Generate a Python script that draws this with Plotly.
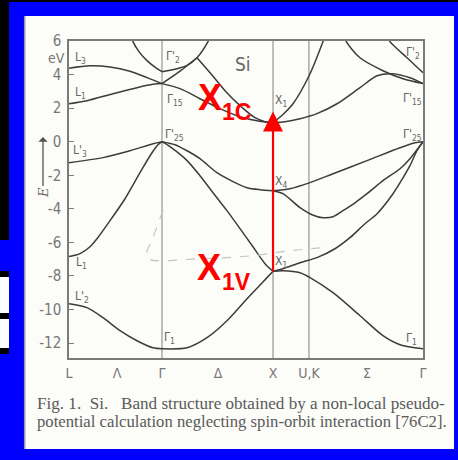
import plotly.graph_objects as go

# ---------------- data ----------------
# high-symmetry points along the k-path (units of 2*pi/a)
K_L, K_G, K_X, K_UK, K_G2 = 0.0, 0.862, 1.891, 2.224, 3.281
XTICK_VALS = [0.0, 0.445, 0.862, 1.381, 1.891, 2.224, 2.762, 3.281]
XTICK_TEXT = ["L", "Λ", "Γ", "Δ", "X", "U,K", "Σ", "Γ"]
YTICK_VALS = [6, 4, 2, 0, -2, -4, -6, -8, -10, -12]
YTICK_TEXT = ["6", "4", "2", "0", "-2", "-4", "-6", "-8", "-10", "-12"]

# bands along L -> Gamma  (k, E in eV)
LG_BANDS = [
    [(0, -9.65), (0.167, -9.89), (0.315, -10.49), (0.473, -11.26), (0.630, -11.86), (0.779, -12.28), (0.862, -12.34)],
    [(0, -6.85), (0.102, -6.67), (0.195, -6.26), (0.260, -5.78), (0.380, -4.71), (0.519, -3.40), (0.658, -1.85), (0.769, -0.66), (0.825, -0.18), (0.862, 0.0)],
    [(0, -1.25), (0.315, -0.95), (0.565, -0.54), (0.779, -0.12), (0.862, 0.0)],
    [(0, 2.26), (0.167, 2.44), (0.408, 2.86), (0.630, 3.22), (0.779, 3.42), (0.862, 3.46)],
    [(0, 4.38), (0.195, 4.52), (0.380, 4.45), (0.565, 4.20), (0.723, 3.82), (0.862, 3.46)],
    [(0.575, 6.3), (0.593, 5.96), (0.650, 5.35), (0.723, 4.83), (0.816, 4.35), (0.862, 4.17)],
]
# bands along Gamma -> X
GX_BANDS = [
    [(0.862, -12.34), (1.094, -12.28), (1.279, -11.68), (1.464, -10.67), (1.650, -9.36), (1.835, -8.10), (1.891, -7.72)],
    [(0.862, 0.0), (0.936, -0.30), (1.094, -1.13), (1.214, -2.03), (1.335, -3.04), (1.464, -4.11), (1.585, -5.18), (1.705, -6.26), (1.817, -7.27), (1.891, -7.72)],
    [(0.862, 0.0), (0.982, -0.18), (1.094, -0.54), (1.214, -1.01), (1.372, -1.85), (1.520, -2.38), (1.650, -2.74), (1.770, -2.86), (1.891, -2.92)],
    [(0.862, 3.46), (1.029, 3.16), (1.214, 2.56), (1.399, 1.97), (1.585, 1.49), (1.742, 1.25), (1.891, 1.13)],
    [(0.862, 4.17), (1.001, 4.35), (1.094, 4.55), (1.186, 5.0), (1.288, 5.96), (1.31, 6.3)],
    [(0.862, 3.46), (1.029, 4.2), (1.186, 5.0)],
    [(1.186, 5.0), (1.307, 4.11), (1.446, 3.04), (1.585, 2.15), (1.724, 1.43), (1.817, 1.19), (1.891, 1.13)],
]
# bands along X -> U,K -> Gamma
XG_BANDS = [
    [(1.891, -7.72), (1.983, -7.69), (2.141, -7.81), (2.234, -8.10), (2.447, -9.00), (2.697, -10.37), (2.910, -11.56), (3.068, -12.10), (3.281, -12.34)],
    [(1.891, -7.72), (1.983, -7.57), (2.141, -7.21), (2.298, -6.91), (2.465, -6.38), (2.604, -5.72), (2.743, -4.89), (2.855, -4.29), (3.003, -3.10), (3.096, -2.15), (3.160, -1.43), (3.225, -0.54), (3.281, 0.0)],
    [(1.891, -2.92), (2.048, -2.80), (2.234, -2.44), (2.447, -1.91), (2.762, -1.13), (3.068, -0.36), (3.207, -0.06), (3.281, 0.0)],
    [(1.891, -2.92), (1.983, -3.10), (2.141, -3.93), (2.252, -4.35), (2.354, -4.53), (2.447, -4.47), (2.539, -4.11), (2.651, -3.64), (2.762, -3.10), (2.910, -2.32), (3.068, -1.61), (3.160, -1.01), (3.281, 0.0)],
    [(1.891, 1.13), (2.002, 1.19), (2.141, 1.37), (2.298, 1.67), (2.484, 2.26), (2.697, 3.22), (2.855, 3.93), (3.003, 4.05), (3.160, 3.81), (3.281, 3.46)],
    [(1.891, 1.13), (1.983, 1.62), (2.076, 2.26), (2.234, 4.05), (2.354, 5.96), (2.38, 6.4)],
    [(2.55, 6.3), (2.576, 5.90), (2.697, 5.00), (2.910, 4.23), (3.096, 3.75), (3.281, 3.46)],
    [(2.95, 6.3), (2.975, 5.96), (3.133, 5.00), (3.281, 4.11)],
]
# faint pencil marks on the scan
PENCIL = [(0.871, -4.11), (0.779, -5.72), (0.723, -6.91), (1.214, -6.97), (1.705, -6.79), (2.048, -6.50), (2.354, -6.32)]

# point labels (text, k, E)
POINT_LABELS = [
    ("L<sub>3</sub>", 0.111, 5.01), ("L<sub>1</sub>", 0.102, 2.92), ("L'<sub>3</sub>", 0.102, -0.54),
    ("L<sub>1</sub>", 0.120, -7.21), ("L'<sub>2</sub>", 0.120, -9.24),
    ("Γ'<sub>2</sub>", 0.964, 5.07), ("Γ<sub>15</sub>", 0.982, 2.50), ("Γ'<sub>25</sub>", 0.982, 0.42),
    ("Γ<sub>1</sub>", 0.936, -11.68),
    ("X<sub>1</sub>", 1.965, 2.44), ("X<sub>4</sub>", 1.965, -2.38), ("X<sub>1</sub>", 1.965, -7.15),
    ("Γ'<sub>2</sub>", 3.188, 5.30), ("Γ'<sub>15</sub>", 3.188, 2.56), ("Γ'<sub>25</sub>", 3.188, 0.42),
    ("Γ<sub>1</sub>", 3.179, -11.74),
]
TRANSITION = {"k": K_X, "E_from": -7.72, "E_to": 1.80}

# ---------------- figure ----------------
W, H = 458, 460
L_, R_, T_, B_ = 69, 35, 41, 102
PW, PH = W - L_ - R_, H - T_ - B_

def px(x):
    return (x - L_) / PW

def py(y):
    return (H - B_ - y) / PH

fig = go.Figure()
LINE = dict(color="#3c3c3c", width=1.5, shape="spline", smoothing=0.8)

for group in (LG_BANDS, GX_BANDS, XG_BANDS):
    for band in group:
        fig.add_trace(go.Scatter(x=[p[0] for p in band], y=[p[1] for p in band],
                                 mode="lines", line=LINE, hoverinfo="skip", showlegend=False))

fig.add_trace(go.Scatter(x=[p[0] for p in PENCIL], y=[p[1] for p in PENCIL], mode="lines",
                         line=dict(color="#c4c4c4", width=1.2, dash="dash", shape="spline"),
                         hoverinfo="skip", showlegend=False))

# red transition arrow
fig.add_trace(go.Scatter(x=[TRANSITION["k"], TRANSITION["k"]],
                         y=[TRANSITION["E_from"], TRANSITION["E_to"] - 0.6],
                         mode="lines", line=dict(color="#ff0000", width=2.2),
                         hoverinfo="skip", showlegend=False))
fig.add_annotation(x=TRANSITION["k"], y=TRANSITION["E_to"], ax=TRANSITION["k"], ay=TRANSITION["E_to"] - 1.2,
                   xref="x", yref="y", axref="x", ayref="y", text="", showarrow=True,
                   arrowhead=2, arrowsize=2, arrowwidth=2, arrowcolor="#ff0000")

shapes = []
# backgrounds
shapes.append(dict(type="rect", xref="paper", yref="paper", x0=px(9), x1=px(458), y0=py(2), y1=py(460),
                   fillcolor="#0000fe", line_width=0, layer="below"))
for y0, y1, c in [(240, 271, "#0000fe"), (277, 313, "#ffffff"), (319, 348, "#ffffff"), (354, 460, "#0000fe")]:
    shapes.append(dict(type="rect", xref="paper", yref="paper", x0=px(0), x1=px(9), y0=py(y0), y1=py(y1),
                       fillcolor=c, line_width=0, layer="below"))
shapes.append(dict(type="rect", xref="paper", yref="paper", x0=px(24), x1=px(454), y0=py(16), y1=py(449),
                   fillcolor="#fcfcf8", line_width=0, layer="below"))
shapes.append(dict(type="line", xref="paper", yref="paper", x0=px(24.7), x1=px(24.7), y0=py(16), y1=py(449),
                   line=dict(color="#9a9a9a", width=1.5), layer="below"))
# vertical symmetry lines
for kv in (K_G, K_X, K_UK):
    shapes.append(dict(type="line", xref="x", yref="paper", x0=kv, x1=kv, y0=0, y1=1,
                       line=dict(color="#8a8a8a", width=1.1), layer="below"))

LBL_FONT = dict(family="DejaVu Sans Condensed, DejaVu Sans", size=12, color="#666666")
for t, kx, ey in POINT_LABELS:
    fig.add_annotation(x=kx, y=ey, text=t, showarrow=False, font=LBL_FONT, xanchor="center", yanchor="middle")

fig.add_annotation(x=1.613, y=4.65, text="Si", showarrow=False, xanchor="center", yanchor="middle",
                   font=dict(family="DejaVu Sans Condensed, DejaVu Sans", size=19, color="#666666"))

RED = dict(family="Liberation Sans, Arial", color="#ff0000")
for t, kx, ey, sz in [("<b>X</b>", 1.311, 2.62, 36), ("<b>1C</b>", 1.548, 1.76, 23),
                      ("<b>X</b>", 1.302, -7.48, 36), ("<b>1V</b>", 1.548, -8.37, 23)]:
    fig.add_annotation(x=kx, y=ey, text=t, showarrow=False, xanchor="center", yanchor="middle",
                       font=dict(size=sz, **RED))

# eV unit and E arrow
fig.add_annotation(xref="paper", yref="paper", x=px(56), y=py(58), text="eV", showarrow=False,
                   xanchor="center", yanchor="middle",
                   font=dict(family="DejaVu Sans Condensed, DejaVu Sans", size=14, color="#777777"))
fig.add_annotation(xref="paper", yref="paper", x=px(43), y=py(137), ax=0, ay=56, text="<i>E</i>",
                   xanchor="center", yanchor="middle",
                   textangle=-90, showarrow=True, arrowhead=1, arrowsize=1.2, arrowwidth=1.3, arrowcolor="#555555",
                   font=dict(family="DejaVu Serif", size=13, color="#666666"))

CAP1 = dict(family="Liberation Serif, DejaVu Serif", size=17.1, color="#5a5a5a")
CAP2 = dict(family="Liberation Serif, DejaVu Serif", size=16.7, color="#5a5a5a")
fig.add_annotation(xref="paper", yref="paper", x=px(35), y=py(403), xanchor="left", yanchor="middle",
                   text="Fig. 1.  Si.   Band structure obtained by a non-local pseudo-", showarrow=False, font=CAP1)
fig.add_annotation(xref="paper", yref="paper", x=px(35), y=py(421), xanchor="left", yanchor="middle",
                   text="potential calculation neglecting spin-orbit interaction [76C2].", showarrow=False, font=CAP2)

AXC = "#7a7a7a"
fig.update_layout(
    width=W, height=H, margin=dict(l=L_, r=R_, t=T_, b=B_),
    paper_bgcolor="#000000", plot_bgcolor="rgba(0,0,0,0)",
    shapes=shapes, showlegend=False,
    xaxis=dict(range=[K_L, K_G2], showgrid=False, zeroline=False, showline=True, mirror=True,
               linecolor=AXC, linewidth=1.5, tickvals=XTICK_VALS, ticktext=XTICK_TEXT, ticks="",
               ticklabelstandoff=1,
               tickfont=dict(family="DejaVu Sans Condensed, DejaVu Sans", size=14, color="#777777")),
    yaxis=dict(range=[-12.89, 6.0], showgrid=False, zeroline=False, showline=True, mirror=True,
               linecolor=AXC, linewidth=1.5, tickvals=YTICK_VALS, ticktext=YTICK_TEXT,
               ticks="inside", ticklen=5, tickcolor=AXC, tickwidth=1.2, ticklabelstandoff=3,
               tickfont=dict(family="DejaVu Sans Condensed, DejaVu Sans", size=15, color="#777777")),
)
fig.write_html("out.html")
